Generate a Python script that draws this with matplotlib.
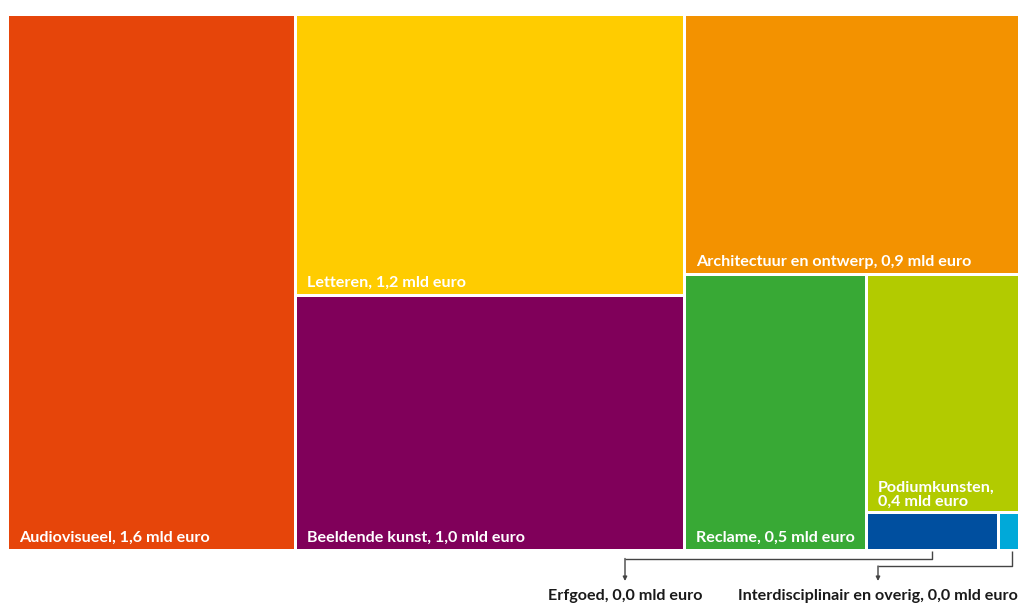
import matplotlib
matplotlib.use('Agg')
from matplotlib import pyplot as plt
from matplotlib.patches import Rectangle

plt.rcParams['font.family'] = ['Lato', 'DejaVu Sans']

# omzet per domein (mld euro), sizes read from the rectangle areas
sectors = ['Audiovisueel', 'Letteren', 'Beeldende kunst', 'Architectuur en ontwerp',
           'Reclame', 'Podiumkunsten', 'Erfgoed', 'Interdisciplinair en overig']
values = [1.636, 1.159, 1.052, 0.923, 0.531, 0.387, 0.0526, 0.0088]
shown = ['1,6', '1,2', '1,0', '0,9', '0,5', '0,4', '0,0', '0,0']
colors = ['#E6450A', '#FFCC00', '#80005A', '#F39200',
          '#38A935', '#B2CB00', '#004F9F', '#00A9D9']


def worst(row, side):
    s = sum(row)
    return max(max(side * side * r / (s * s), s * s / (side * side * r)) for r in row)


def squarify(sizes, x, y, w, h):
    tot = sum(sizes)
    areas = [v / tot * w * h for v in sizes]
    rects = []
    while areas:
        side = min(w, h)
        row = [areas[0]]
        i = 1
        while i < len(areas) and worst(row + [areas[i]], side) <= worst(row, side):
            row.append(areas[i])
            i += 1
        s = sum(row)
        if w >= h:
            cw = s / h
            yy = y
            for a in row:
                rects.append((x, yy, cw, a / cw))
                yy += a / cw
            x += cw
            w -= cw
        else:
            rh = s / w
            xx = x
            for a in row:
                rects.append((xx, y, a / rh, rh))
                xx += a / rh
            y += rh
            h -= rh
        areas = areas[i:]
    return rects


W, H = 1018, 603
fig = plt.figure(figsize=(W / 100, H / 100), dpi=100)
ax = fig.add_axes([0, 0, 1, 1])
ax.set_xlim(0, W)
ax.set_ylim(H, 0)
ax.axis('off')

pad = 1.5
fs = 11.6
rects = squarify(values, 7.5, 14.5, 1012.5, 536)

for k, (x, y, w, h) in enumerate(rects):
    ax.add_patch(Rectangle((x + pad, y + pad), w - 2 * pad, h - 2 * pad,
                           facecolor=colors[k], edgecolor='none'))
    if k >= 6:
        continue
    if sectors[k] == 'Podiumkunsten':
        txt = sectors[k] + ',\n' + shown[k] + ' mld euro'
        yb = y + h - pad - 5
    else:
        txt = sectors[k] + ', ' + shown[k] + ' mld euro'
        yb = y + h - pad - 7
    ax.text(x + pad + 10, yb, txt, color='white', fontsize=fs, fontweight='bold',
            ha='left', va='baseline', linespacing=1.05)

# kleine domeinen: labels onder de treemap met verbindingslijnen
callouts = [(6, 558.5, 625), (7, 566, 878)]
for k, ly, tx in callouts:
    x, y, w, h = rects[k]
    cx = x + w / 2 if k == 6 else x + pad + 12
    ax.plot([cx, cx, tx], [y + h, ly, ly], color='#444444', lw=1, solid_capstyle='butt')
    ax.annotate('', xy=(tx, 581), xytext=(tx, ly),
                arrowprops=dict(arrowstyle='-|>', color='#444444', lw=1,
                                mutation_scale=6, shrinkA=0, shrinkB=0))
    ax.text(tx, 600, sectors[k] + ', ' + shown[k] + ' mld euro', color='#1a1a1a',
            fontsize=fs, fontweight='bold', ha='center', va='baseline')

fig.savefig('out.png', dpi=100)
